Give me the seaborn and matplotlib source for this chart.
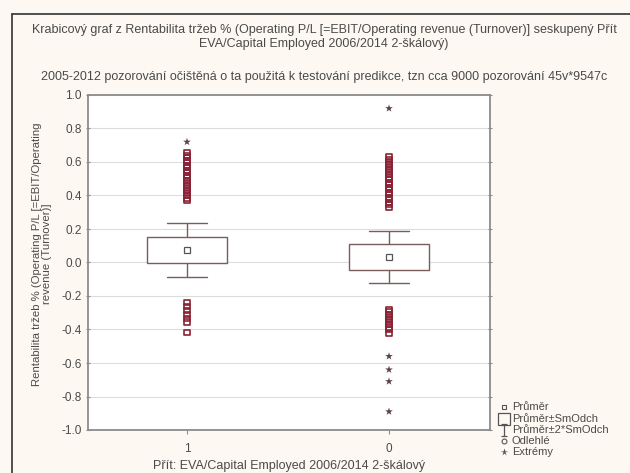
import numpy as np
import pandas as pd
import matplotlib
matplotlib.use("Agg")
import matplotlib.pyplot as plt
from matplotlib.lines import Line2D
from matplotlib.patches import Rectangle
from matplotlib.path import Path
import seaborn as sns

# Groups (category labels on the x axis)
groups = ["1", "0"]
# Mean and standard deviation of each group
means = [0.075, 0.035]
sds = [0.080, 0.078]

# Outliers (Odlehlé) per group
outliers_1 = [0.37, 0.385, 0.40, 0.415, 0.43, 0.445, 0.46, 0.475, 0.49, 0.505,
              0.52, 0.535, 0.55, 0.565, 0.58, 0.595, 0.61, 0.625, 0.64, 0.655,
              -0.24, -0.265, -0.285, -0.31, -0.335, -0.355, -0.42]
outliers_0 = [0.33, 0.345, 0.36, 0.375, 0.39, 0.405, 0.42, 0.435, 0.45, 0.465,
              0.48, 0.495, 0.51, 0.525, 0.54, 0.555, 0.57, 0.585, 0.60, 0.615, 0.63,
              -0.28, -0.295, -0.31, -0.325, -0.34, -0.355, -0.37, -0.385, -0.40,
              -0.425]
# Extremes (Extrémy) per group
extremes_1 = [0.72]
extremes_0 = [0.92, -0.56, -0.64, -0.71, -0.89]

yticks = [1.0, 0.8, 0.6, 0.4, 0.2, 0.0, -0.2, -0.4, -0.6, -0.8, -1.0]

title = ("Krabicový graf z Rentabilita tržeb % (Operating P/L [=EBIT/Operating revenue (Turnover)] seskupený Přít\n"
         "EVA/Capital Employed 2006/2014 2-škálový)")
subtitle = "2005-2012 pozorování očištěná o ta použitá k testování predikce, tzn cca 9000 pozorování 45v*9547c"
xlabel = "Přít: EVA/Capital Employed 2006/2014 2-škálový"
ylabel = "Rentabilita tržeb % (Operating P/L [=EBIT/Operating\nrevenue (Turnover)]"
legend_labels = ["Průměr", "Průměr±SmOdch", "Průměr±2*SmOdch", "Odlehlé", "Extrémy"]

sns.set_theme(style="white")
plt.rcParams["font.family"] = ["Liberation Sans", "DejaVu Sans"]

BG = "#fdf9f2"
TXT = "#4a4a4a"
BOXC = "#7a5c5c"
RED = "#8a2236"
FS = 9

fig = plt.figure(figsize=(6.3, 4.73), dpi=100, facecolor=BG)
ax = fig.add_axes([88 / 630, 1 - 430 / 473, 402 / 630, 335 / 473])
ax.set_facecolor("white")

# Outliers and extremes as seaborn scatter layers
rows = []
for g, vals in zip(groups, [outliers_1, outliers_0]):
    rows += [{"grp": g, "val": v, "kind": "Odlehlé"} for v in vals]
for g, vals in zip(groups, [extremes_1, extremes_0]):
    rows += [{"grp": g, "val": v, "kind": "Extrémy"} for v in vals]
df = pd.DataFrame(rows)
df["pos"] = df["grp"].map({g: i for i, g in enumerate(groups)})

out = df[df["kind"] == "Odlehlé"]
ext = df[df["kind"] == "Extrémy"]
sns.scatterplot(data=out, x="pos", y="val", ax=ax, marker="s", s=14,
                facecolor="none", edgecolor=RED, linewidth=1.2, legend=False, zorder=3)
sns.scatterplot(data=ext, x="pos", y="val", ax=ax, marker="*", s=34,
                color="#5a4048", edgecolor="none", legend=False, zorder=3)

# Mean ± SD boxes, mean ± 2*SD whiskers
bw, cw = 0.40, 0.20
for i, (m, s) in enumerate(zip(means, sds)):
    ax.add_patch(Rectangle((i - bw / 2, m - s), bw, 2 * s, facecolor="white",
                           edgecolor=BOXC, linewidth=1.0, zorder=2))
    ax.plot([i, i], [m + s, m + 2 * s], color=BOXC, lw=1.0, zorder=2)
    ax.plot([i, i], [m - s, m - 2 * s], color=BOXC, lw=1.0, zorder=2)
    ax.plot([i - cw / 2, i + cw / 2], [m + 2 * s] * 2, color=BOXC, lw=1.0, zorder=2)
    ax.plot([i - cw / 2, i + cw / 2], [m - 2 * s] * 2, color=BOXC, lw=1.0, zorder=2)
    ax.plot([i], [m], marker="s", ms=4, mfc="white", mec="#555555", mew=0.9, zorder=4)

ax.set_xlim(-0.49, 1.5)
ax.set_ylim(-1.0, 1.0)
ax.set_yticks(yticks)
ax.set_yticklabels([f"{t:.1f}" for t in yticks])
ax.set_xticks(range(len(groups)))
ax.set_xticklabels(groups)
ax.yaxis.grid(True, color="#dcdcdc", lw=0.8)
ax.set_axisbelow(True)
for sp in ax.spines.values():
    sp.set_color("#8c8c8c")
    sp.set_linewidth(1.3)
ax.tick_params(axis="both", colors="#8c8c8c", labelcolor=TXT, labelsize=8.5,
               direction="out", length=3, width=0.8, left=True, bottom=True, pad=3)
ax.tick_params(axis="x", pad=6)
ax.tick_params(axis="y", right=True, direction="inout")
ax.set_xlabel(xlabel, fontsize=FS, color=TXT, labelpad=4)
ax.set_ylabel("")

fig.text(42 / 630, 1 - 254 / 473, ylabel, rotation=90, ha="center", va="center",
         fontsize=8.2, color=TXT, linespacing=1.1)
fig.text(324 / 630, 1 - 37 / 473, title, ha="center", va="center", fontsize=FS,
         color=TXT, linespacing=1.15)
fig.text(324 / 630, 1 - 77 / 473, subtitle, ha="center", va="center", fontsize=FS, color=TXT)

# Frame lines along the top and left of the figure
fig.add_artist(Line2D([12 / 630, 12 / 630], [0, 1 - 14 / 473], color="#333333", lw=1.2))
fig.add_artist(Line2D([12 / 630, 1], [1 - 14 / 473, 1 - 14 / 473], color="#333333", lw=1.2))

# Legend, drawn item by item below the plot's right edge
ibeam = Path([(-0.5, 1), (0.5, 1), (0, 1), (0, -1), (-0.5, -1), (0.5, -1)],
             [Path.MOVETO, Path.LINETO, Path.MOVETO, Path.LINETO, Path.MOVETO, Path.LINETO])
leg_markers = [
    dict(marker="s", ms=3.5, mfc="none", mec="#555555", mew=0.8),
    dict(marker="s", ms=8, mfc="none", mec="#555555", mew=0.9),
    dict(marker=ibeam, ms=8, mfc="none", mec="#555555", mew=0.9),
    dict(marker="o", ms=3.5, mfc="none", mec="#555555", mew=0.8),
    dict(marker="*", ms=5.5, mfc="#555555", mec="none"),
]
leg_y = [407, 419, 430, 441, 452]
for y, lab, mk in zip(leg_y, legend_labels, leg_markers):
    yf = 1 - y / 473
    fig.add_artist(Line2D([504 / 630], [yf], ls="none", **mk))
    fig.text(512 / 630, yf, lab, ha="left", va="center", fontsize=8, color=TXT)

fig.savefig("out.png", dpi=100, facecolor=BG)
